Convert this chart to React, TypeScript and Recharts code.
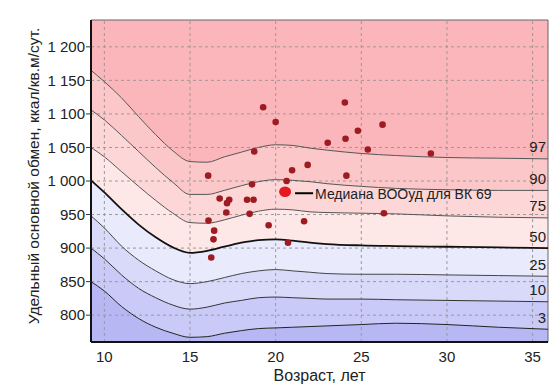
import {
  Area,
  ComposedChart,
  Line,
  ReferenceLine,
  Scatter,
  XAxis,
  YAxis,
} from "recharts";

// Percentile curves of basal metabolic rate by age (kcal per m² per day)
const AGES = [9.22, 10, 11, 12, 13, 14, 15, 16, 17, 18, 19, 20, 21, 22, 23, 25, 27, 30, 33, 35.9];
const P97 = [1165, 1148, 1124, 1096, 1069, 1045, 1029, 1028, 1036, 1043, 1050, 1054, 1053, 1049, 1046, 1041, 1038, 1035, 1034, 1033];
const P90 = [1106, 1091, 1068, 1044, 1020, 998, 980, 980, 986, 993, 999, 1002, 1001, 999, 996, 992, 989, 987, 986, 986];
const P75 = [1050, 1036, 1014, 992, 971, 952, 938, 937, 942, 949, 955, 958, 957, 954, 953, 952, 951, 948, 946, 945];
const P50 = [1001, 983, 958, 935, 916, 901, 893, 896, 902, 908, 912, 913, 911, 908, 906, 904, 903, 902, 901, 900];
const P25 = [948, 930, 903, 882, 866, 853, 847, 850, 856, 862, 866, 868, 866, 864, 862, 861, 861, 860, 859, 858];
const P10 = [900, 884, 860, 840, 826, 815, 809, 812, 818, 822, 826, 827, 826, 825, 824, 824, 823, 822, 821, 820];
const P3 = [850, 836, 813, 795, 782, 773, 767, 768, 773, 777, 780, 781, 782, 783, 784, 786, 788, 786, 782, 779];

// Individual measurements
const POINT_AGES = [19.27, 20.0, 18.75, 16.06, 20.96, 21.87, 18.62, 20.64, 16.73, 17.29, 17.16, 18.33, 18.71, 17.12, 18.48, 16.08, 19.59, 21.66, 16.41, 16.37, 20.72, 16.24, 24.04, 26.24, 24.8, 24.08, 23.04, 25.38, 29.06, 24.13, 26.32];
const POINT_VALUES = [1110, 1088, 1044, 1008, 1016, 1024, 995, 1000, 974, 972, 967, 972, 972, 953, 951, 941, 934, 940, 926, 913, 908, 886, 1117, 1084, 1075, 1063, 1057, 1047, 1041, 1008, 952];

const MEDIAN_AGE = 20.55;
const MEDIAN_VALUE = 984;
const MEDIAN_LABEL = "Медиана ВООуд для ВК 69";

const X_TICKS = [10, 15, 20, 25, 30, 35];
const Y_TICKS = [800, 850, 900, 950, 1000, 1050, 1100, 1150, 1200];
const X_DOMAIN: [number, number] = [9.22, 35.9];
const Y_DOMAIN: [number, number] = [760, 1240];

const X_TITLE = "Возраст, лет";
const Y_TITLE = "Удельный основной обмен, ккал/кв.м/сут.";

const FONT = "'Liberation Sans', Arial, sans-serif";

const curves = AGES.map((age, i) => ({
  age,
  p97: P97[i],
  p90: P90[i],
  p75: P75[i],
  p50: P50[i],
  p25: P25[i],
  p10: P10[i],
  p3: P3[i],
}));

const points = POINT_AGES.map((age, i) => ({ age, value: POINT_VALUES[i] }));
const median = [{ age: MEDIAN_AGE, value: MEDIAN_VALUE }];

type Row = (typeof curves)[number];

// fill bands, top to bottom
const bands: { key: string; fill: string; range: (d: Row) => [number, number] }[] = [
  { key: "b97", fill: "#fab6ba", range: (d) => [d.p97, Y_DOMAIN[1]] },
  { key: "b90", fill: "#fcc7c9", range: (d) => [d.p90, d.p97] },
  { key: "b75", fill: "#fdd7d7", range: (d) => [d.p75, d.p90] },
  { key: "b50", fill: "#fde7e7", range: (d) => [d.p50, d.p75] },
  { key: "b25", fill: "#e9eafc", range: (d) => [d.p25, d.p50] },
  { key: "b10", fill: "#d9dafa", range: (d) => [d.p10, d.p25] },
  { key: "b3", fill: "#c9caf7", range: (d) => [d.p3, d.p10] },
  { key: "b0", fill: "#b7b8f3", range: (d) => [Y_DOMAIN[0], d.p3] },
];

const lines = [
  { key: "p97", name: "97", color: "#555", width: 1 },
  { key: "p90", name: "90", color: "#555", width: 1 },
  { key: "p75", name: "75", color: "#555", width: 1 },
  { key: "p50", name: "50", color: "#111", width: 1.8 },
  { key: "p25", name: "25", color: "#444", width: 1 },
  { key: "p10", name: "10", color: "#333", width: 1 },
  { key: "p3", name: "3", color: "#222", width: 1 },
];

const fmtThousands = (v: number) =>
  v >= 1000 ? `${Math.floor(v / 1000)} ${String(v % 1000).padStart(3, "0")}` : String(v);

function endLabel(name: string) {
  return (props: any) => {
    if (props.index !== AGES.length - 1) return <g />;
    return (
      <text
        x={props.x - 2}
        y={props.y - 12}
        textAnchor="end"
        dominantBaseline="central"
        fontSize={15}
        fontFamily={FONT}
        fill="#222"
      >
        {name}
      </text>
    );
  };
}

function Dot(props: any) {
  return <circle cx={props.cx} cy={props.cy} r={3.3} fill="#9e1b21" />;
}

function MedianMark(props: any) {
  const { cx, cy } = props;
  return (
    <g>
      <ellipse cx={cx} cy={cy} rx={6} ry={5.2} fill="#e8161e" />
      <line x1={cx + 10} x2={cx + 28} y1={cy + 1.5} y2={cy + 1.5} stroke="#000" strokeWidth={2} />
      <text x={cx + 30} y={cy + 2} dominantBaseline="central" fontSize={14} fontFamily={FONT} fill="#222">
        {MEDIAN_LABEL}
      </text>
    </g>
  );
}

export default function App() {
  return (
    <div style={{ position: "absolute", left: 0, top: 0, width: 557, height: 392, background: "#fff" }}>
      <ComposedChart
        width={557}
        height={392}
        data={curves}
        margin={{ top: 20, right: 9, bottom: 20, left: 31 }}
      >
        <XAxis
          dataKey="age"
          type="number"
          domain={X_DOMAIN}
          ticks={X_TICKS}
          allowDataOverflow
          height={30}
          tickLine={false}
          tickSize={6}
          tickMargin={3}
          axisLine={{ stroke: "#111", strokeWidth: 2 }}
          tick={{ fontSize: 15, fontFamily: FONT, fill: "#222" }}
          label={{
            content: (p: any) => (
              <text
                x={p.viewBox.x + p.viewBox.width / 2}
                y={375}
                textAnchor="middle"
                dominantBaseline="central"
                fontSize={16}
                fontFamily={FONT}
                fill="#222"
              >
                {X_TITLE}
              </text>
            ),
          }}
        />
        <YAxis
          type="number"
          domain={Y_DOMAIN}
          ticks={Y_TICKS}
          allowDataOverflow
          width={60}
          tickSize={5}
          tickMargin={1}
          tickFormatter={fmtThousands}
          tickLine={{ stroke: "#333" }}
          axisLine={{ stroke: "#111", strokeWidth: 2 }}
          tick={{ fontSize: 15, fontFamily: FONT, fill: "#222" }}
          label={{
            content: (p: any) => {
              const x = 33;
              const y = p.viewBox.y + p.viewBox.height / 2 - 5;
              return (
                <text
                  x={x}
                  y={y}
                  transform={`rotate(-90 ${x} ${y})`}
                  textAnchor="middle"
                  dominantBaseline="central"
                  fontSize={15.5}
                  fontFamily={FONT}
                  fill="#222"
                >
                  {Y_TITLE}
                </text>
              );
            },
          }}
        />
        {bands.map((b) => (
          <Area
            key={b.key}
            dataKey={b.range}
            type="monotone"
            fill={b.fill}
            fillOpacity={1}
            stroke="none"
            isAnimationActive={false}
          />
        ))}
        {Y_TICKS.map((t) => (
          <ReferenceLine key={`gy${t}`} y={t} stroke="#9a9a9a" strokeDasharray="3 3" />
        ))}
        {X_TICKS.map((t) => (
          <ReferenceLine key={`gx${t}`} x={t} stroke="#9a9a9a" strokeDasharray="3 3" />
        ))}
        <ReferenceLine y={Y_DOMAIN[1]} stroke="#666" />
        <ReferenceLine x={X_DOMAIN[1]} stroke="#666" />
        {lines.map((l) => (
          <Line
            key={l.key}
            dataKey={l.key}
            type="monotone"
            stroke={l.color}
            strokeWidth={l.width}
            dot={false}
            label={endLabel(l.name)}
            isAnimationActive={false}
          />
        ))}
        <Scatter data={points} dataKey="value" shape={Dot} isAnimationActive={false} />
        <Scatter data={median} dataKey="value" shape={MedianMark} isAnimationActive={false} />
      </ComposedChart>
    </div>
  );
}
